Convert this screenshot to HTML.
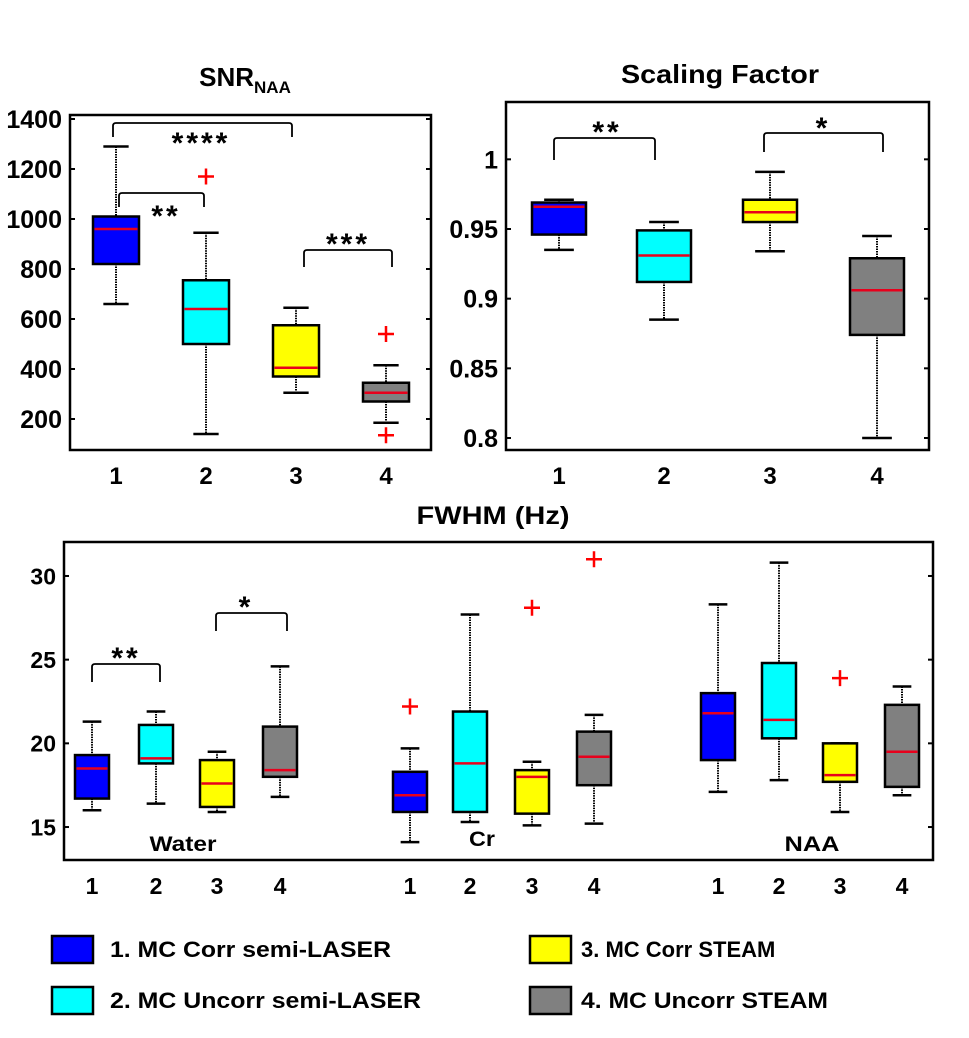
<!DOCTYPE html>
<html><head><meta charset="utf-8"><style>
body{margin:0;background:#fff;width:969px;height:1033px;overflow:hidden}
svg text{font-family:"Liberation Sans",Arial,sans-serif;font-weight:bold;fill:#000}
</style></head><body>
<svg id="svg" width="969" height="1033" xmlns="http://www.w3.org/2000/svg"></svg>
<script>
const colors=['#0000ff','#00ffff','#ffff00','#808080'];
// SNR panel
const snrCats=[1,2,3,4];
const snrQ1=[820,500,370,270];
const snrQ3=[1010,755,575,345];
const snrMed=[960,640,405,305];
const snrLo=[660,140,305,185];
const snrHi=[1290,945,645,415];
const snrOut=[[],[1170],[],[540,135]];
const snrTicks=[200,400,600,800,1000,1200,1400];
// Scaling factor panel
const sfQ1=[0.946,0.912,0.955,0.874];
const sfQ3=[0.969,0.949,0.971,0.929];
const sfMed=[0.966,0.931,0.962,0.906];
const sfLo=[0.935,0.885,0.934,0.800];
const sfHi=[0.971,0.955,0.991,0.945];
const sfOut=[[],[],[],[]];
const sfTicks=[0.8,0.85,0.9,0.95,1];
const sfTickLabels=['0.8','0.85','0.9','0.95','1'];
// FWHM panel (Water, Cr, NAA groups x 4)
const fwQ1=[16.7,18.8,16.2,18.0, 15.9,15.9,15.8,17.5, 19.0,20.3,17.7,17.4];
const fwQ3=[19.3,21.1,19.0,21.0, 18.3,21.9,18.4,20.7, 23.0,24.8,20.0,22.3];
const fwMed=[18.5,19.1,17.6,18.4, 16.9,18.8,18.0,19.2, 21.8,21.4,18.1,19.5];
const fwLo=[16.0,16.4,15.9,16.8, 14.1,15.3,15.1,15.2, 17.1,17.8,15.9,16.9];
const fwHi=[21.3,21.9,19.5,24.6, 19.7,27.7,18.9,21.7, 28.3,30.8,20.0,23.4];
const fwOut=[[],[],[],[], [22.2],[],[28.1],[31.0], [],[],[23.9],[]];
const fwTicks=[15,20,25,30];
const fwX=[92,156,217,280,410,470,532,594,718,779,840,902];
const legendLabels=['1. MC Corr semi-LASER','2. MC Uncorr semi-LASER','3. MC Corr STEAM','4. MC Uncorr STEAM'];

const svg=document.getElementById('svg');
const NS='http://www.w3.org/2000/svg';
function mk(tag,attrs,parent,text){const e=document.createElementNS(NS,tag);for(const k in attrs)e.setAttribute(k,attrs[k]);if(text!==undefined)e.textContent=text;(parent||svg).appendChild(e);return e;}
function lin(d0,d1,r0,r1){return v=>r0+(v-d0)/(d1-d0)*(r1-r0);}

function panel(name,L,R,T,B,ymin,ymax,xs,q1,q3,med,lo,hi,out,hw,ticks,tlabels,fs){
  const g=mk('g',{},svg);
  
  
  const y=lin(ymin,ymax,B,T);
  const fr=mk('rect',{x:L,y:T,width:R-L,height:B-T,fill:'none',stroke:'#000','stroke-width':2.5},g);
  
  
  ticks.forEach((t,i)=>{
    const yy=y(t);
    mk('line',{x1:L,x2:L+5,y1:yy,y2:yy,stroke:'#000','stroke-width':2},g);
    mk('line',{x1:R-5,x2:R,y1:yy,y2:yy,stroke:'#000','stroke-width':2},g);
    const tl=mk('text',{x:L-8,y:yy+fs*0.36,'text-anchor':'end','font-size':fs},g,tlabels[i]);
    
    
  });
  xs.forEach((x,i)=>{
    const bg=mk('g',{},g);
    
    
    const cw=hw*0.55;
    mk('line',{x1:x,x2:x,y1:y(hi[i]),y2:y(q3[i]),stroke:'#000','stroke-width':2,'stroke-dasharray':'1.5,1'},bg);
    mk('line',{x1:x,x2:x,y1:y(q1[i]),y2:y(lo[i]),stroke:'#000','stroke-width':2,'stroke-dasharray':'1.5,1'},bg);
    mk('line',{x1:x-cw,x2:x+cw,y1:y(hi[i]),y2:y(hi[i]),stroke:'#000','stroke-width':2.5},bg);
    mk('line',{x1:x-cw,x2:x+cw,y1:y(lo[i]),y2:y(lo[i]),stroke:'#000','stroke-width':2.5},bg);
    mk('rect',{x:x-hw,y:y(q3[i]),width:2*hw,height:y(q1[i])-y(q3[i]),fill:colors[i%4],stroke:'#000','stroke-width':2.5},bg);
    mk('line',{x1:x-hw+1.5,x2:x+hw-1.5,y1:y(med[i]),y2:y(med[i]),stroke:'#e8001c','stroke-width':2.5},bg);
    out[i].forEach(o=>{const oy=y(o);
      mk('path',{d:`M${x-8},${oy}H${x+8}M${x},${oy-8}V${oy+8}`,stroke:'#ff0000','stroke-width':2.5},bg);});
  });
  return y;
}
function bracket(x1,x2,top,bot,label,tx,ty){
  const p=mk('path',{d:`M${x1},${bot}V${top+3}Q${x1},${top} ${x1+3},${top}H${x2-3}Q${x2},${top} ${x2},${top+3}V${bot}`,fill:'none',stroke:'#000','stroke-width':1.8});
  
  
  const t=mk('text',{x:tx,y:ty,'text-anchor':'middle','font-size':30,'font-weight':'normal','letter-spacing':'3'},svg,label);
  
  
}
function xlabels(xs,labs,yy,fs){xs.forEach((x,i)=>{const t=mk('text',{x:x,y:yy,'text-anchor':'middle','font-size':fs},svg,labs[i]);
  
  });}

// Panel 1
const xs1=[116,206,296,386];
panel('snr-panel',70,431,115,450,76,1416,xs1,snrQ1,snrQ3,snrMed,snrLo,snrHi,snrOut,23,snrTicks,snrTicks.map(String),25);
xlabels(xs1,snrCats.map(String),484,24);
let t1=mk('text',{x:245,y:86,'text-anchor':'middle','font-size':26});


t1.innerHTML='SNR<tspan font-size="17" dy="7">NAA</tspan>';
bracket(113,292,123,137,'****',201,153);
bracket(119,204,193,207,'**',166,226);
bracket(304,392,250,267,'***',348,254);

// Panel 2
const xs2=[559,664,770,877];
panel('scaling-factor-panel',506,929,102,450,0.8-12/(209/0.15),0.8+(438-102)/(209/0.15),xs2,sfQ1,sfQ3,sfMed,sfLo,sfHi,sfOut,27,sfTicks,sfTickLabels,25);
xlabels(xs2,snrCats.map(String),484,24);
let t2=mk('text',{x:720,y:83,'text-anchor':'middle','font-size':26,'textLength':198,'lengthAdjust':'spacingAndGlyphs'},svg,'Scaling Factor');


bracket(554,655,138,160,'**',607,142);
bracket(764,883,133,152,'*',823,138);

// Panel 3
panel('fwhm-panel',64,933,542,860,13.03,32.03,fwX,fwQ1,fwQ3,fwMed,fwLo,fwHi,fwOut,17,fwTicks,fwTicks.map(String),23);
xlabels(fwX,['1','2','3','4','1','2','3','4','1','2','3','4'],894,23);
let t3=mk('text',{x:493,y:524,'text-anchor':'middle','font-size':25,'textLength':153,'lengthAdjust':'spacingAndGlyphs'},svg,'FWHM (Hz)');


[['Water',183,851,67],['Cr',482,846,26],['NAA',812,851,55]].forEach(a=>{const t=mk('text',{x:a[1],y:a[2],'text-anchor':'middle','font-size':21,'textLength':a[3],'lengthAdjust':'spacingAndGlyphs'},svg,a[0]);
  
  });
bracket(92,160,664,682,'**',126,668);
bracket(216,287,613,631,'*',246,617);

// Legend
const legPos=[[52,936],[52,987],[530,936],[530,987]];
const legW=[281,311,0,247];
legendLabels.forEach((l,i)=>{
  const g=mk('g',{});
  
  
  mk('rect',{x:legPos[i][0],y:legPos[i][1],width:41,height:27,fill:colors[i],stroke:'#000','stroke-width':2.5},g);
  const a={x:legPos[i][0]+(i<2?58:51),y:legPos[i][1]+21,'font-size':22};
  if(legW[i]){a.textLength=legW[i];a.lengthAdjust='spacingAndGlyphs';}
  mk('text',a,g,l);
});
</script>
</body></html>
